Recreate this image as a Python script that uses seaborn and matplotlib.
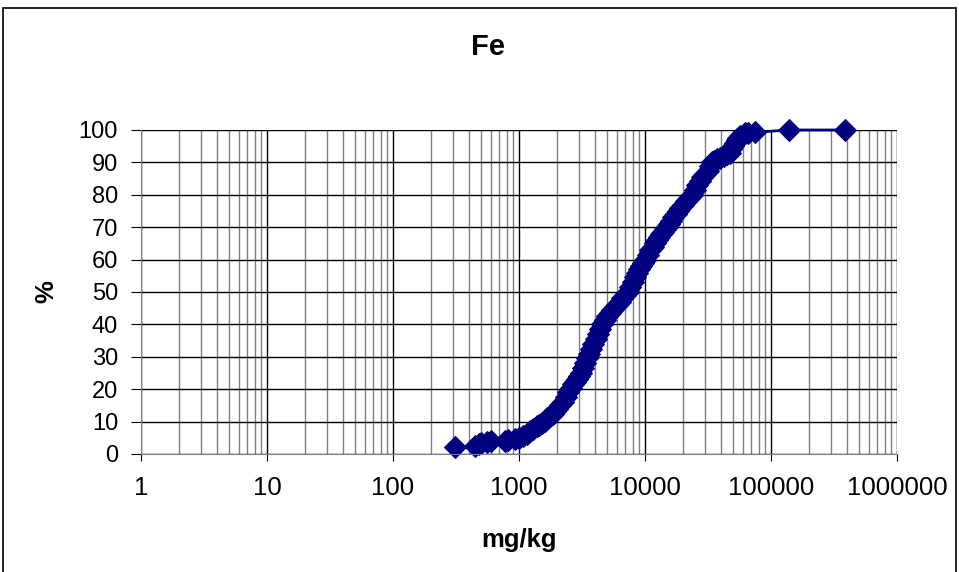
import seaborn as sns
import matplotlib.pyplot as plt
from matplotlib.patches import Rectangle
from matplotlib.ticker import LogLocator, FixedLocator, NullFormatter

# Fe concentrations (mg/kg) and cumulative percent
fe_mgkg = [310, 450, 480, 500, 560, 600, 780, 820, 930, 1000,
           1080, 1150, 1220, 1300, 1380, 1450, 1520, 1600, 1680, 1760,
           1850, 1930, 2000, 2100, 2230, 2350, 2450, 2580, 2700, 2800,
           2900, 3000, 3100, 3220, 3340, 3470, 3600, 3750, 3900, 4050,
           4200, 4380, 4560, 4780, 5000, 5250, 5500, 5750, 6000, 6300,
           6600, 6950, 7330, 7650, 8000, 8350, 8700, 9000, 9300, 9650,
           10000, 10500, 11000, 11500, 12000, 12500, 13000, 13500, 14000, 14500,
           15000, 15500, 16000, 16700, 17500, 18200, 19000, 20000, 21000, 22300,
           23600, 24800, 26000, 27200, 28500, 30000, 31600, 32800, 34000, 35500,
           37000, 39500, 42000, 44500, 47000, 48500, 50000, 52000, 53700, 55000,
           57000, 62000, 66000, 75000, 138000, 385000]
cum_pct = [2.2, 2.5, 3.0, 3.3, 3.7, 4.0, 4.1, 4.3, 4.5, 5.0,
           5.6, 6.2, 7.0, 7.8, 8.5, 9.0, 9.6, 10.3, 11.0, 11.7,
           12.5, 13.2, 14.0, 15.0, 16.0, 17.5, 19.0, 20.3, 21.5, 22.3,
           23.0, 24.0, 25.0, 26.5, 28.0, 29.5, 31.0, 32.5, 34.0, 35.5,
           37.0, 38.5, 40.0, 41.3, 42.5, 43.5, 44.5, 45.3, 46.0, 47.0,
           48.0, 49.0, 50.0, 51.5, 53.0, 54.5, 56.0, 57.0, 58.0, 59.0,
           60.0, 61.5, 63.0, 64.0, 65.0, 66.0, 67.0, 67.8, 68.5, 69.3,
           70.0, 71.0, 72.0, 73.0, 74.0, 75.0, 76.0, 77.0, 78.0, 79.0,
           80.0, 81.5, 83.0, 84.3, 85.5, 86.5, 87.5, 88.8, 90.0, 90.5,
           91.0, 91.5, 92.0, 92.5, 93.0, 94.0, 95.0, 96.0, 97.0, 97.5,
           98.0, 99.0, 99.1, 99.3, 100.0, 100.0]

x_ticks = [1, 10, 100, 1000, 10000, 100000, 1000000]
x_tick_labels = ["1", "10", "100", "1000", "10000", "100000", "1000000"]
y_ticks = list(range(0, 101, 10))

sns.set_style("white")
plt.rcParams['font.family'] = ['Liberation Sans', 'DejaVu Sans']
plt.rcParams['text.color'] = 'black'
plt.rcParams['xtick.color'] = 'black'
plt.rcParams['ytick.color'] = 'black'

W, H = 959, 572
fig = plt.figure(figsize=(W / 100, H / 100), dpi=100)
ax = fig.add_axes([141 / W, 1 - 454 / H, 756 / W, 324 / H])

ax.set_xscale('log')
ax.set_xlim(1, 1000000)
ax.set_ylim(0, 100)
ax.xaxis.set_major_locator(FixedLocator(x_ticks))
ax.xaxis.set_minor_locator(LogLocator(base=10, subs=range(2, 10), numticks=20))
ax.xaxis.set_minor_formatter(NullFormatter())
ax.set_xticks(x_ticks)
ax.set_xticklabels(x_tick_labels)
ax.set_yticks(y_ticks)
# grid: grey minor lines, black decades and percent lines
ax.grid(which='minor', axis='x', color='#808080', linewidth=1)
ax.grid(which='major', axis='x', color='black', linewidth=1)
ax.grid(which='major', axis='y', color='black', linewidth=1)
ax.set_axisbelow(True)

sns.lineplot(x=fe_mgkg, y=cum_pct, ax=ax, sort=False, color='#000080',
             linewidth=2, marker='D', markersize=11, markeredgecolor='#000080',
             markerfacecolor='#000080', clip_on=False)

for s in ['top', 'right']:
    ax.spines[s].set_visible(False)
ax.spines['left'].set_color('#808080')
ax.spines['bottom'].set_color('#808080')
ax.tick_params(axis='x', which='major', direction='out', length=5,
               labelsize=18.5, pad=11, bottom=True, labelcolor='black')
ax.tick_params(axis='x', which='minor', length=0)
ax.tick_params(axis='y', direction='out', length=7, labelsize=17,
               pad=9.5, left=True, labelcolor='black')

fig.text(488 / W, 1 - 47 / H, 'Fe', fontsize=21, fontweight='bold',
         ha='center', va='center', color='black')
fig.text(519 / W, 1 - 540 / H, 'mg/kg', fontsize=18.5, fontweight='bold',
         ha='center', va='center', color='black')
fig.text(46 / W, 1 - 292 / H, '%', fontsize=18.5, fontweight='bold',
         ha='center', va='center', rotation=90, color='black')

fig.patches.append(Rectangle((3 / W, -0.01), 953 / W, 1 - 8 / H + 0.01,
                             transform=fig.transFigure, fill=False,
                             edgecolor='black', linewidth=1.2, clip_on=False))

fig.savefig('out.png', dpi=100)
